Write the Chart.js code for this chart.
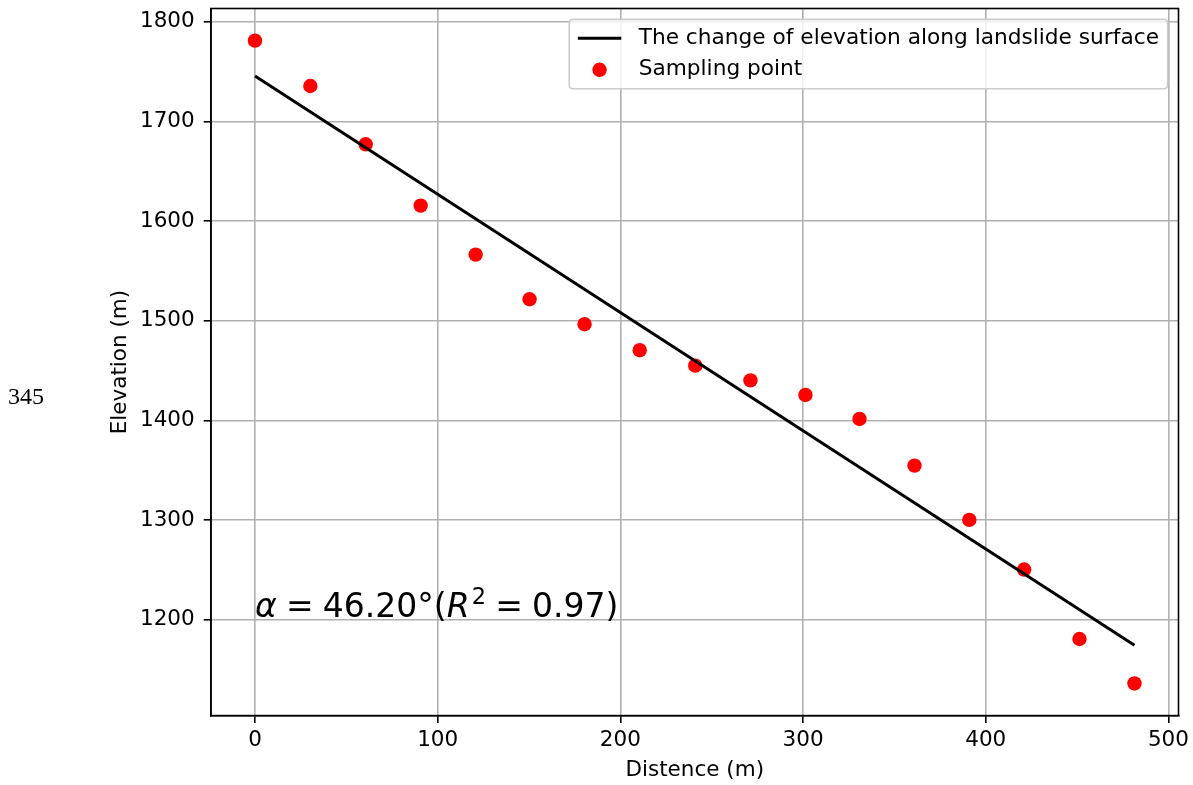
<!DOCTYPE html>
<html><head><meta charset="utf-8">
<script src="https://cdn.jsdelivr.net/npm/chart.js@4.4.1/dist/chart.umd.min.js"></script>
<style>
html,body{margin:0;padding:0;background:#fff;}
#wrap{position:relative;width:1193px;height:785px;}
#side{position:absolute;left:8px;top:381px;font:24px "Liberation Serif","Times New Roman",serif;color:#000;line-height:30px;}
canvas{display:block}
</style></head><body>
<div id="wrap"><canvas id="c" width="1193" height="785"></canvas><div id="side"></div></div>
<script>
// ---- data ----
const distance  = [0, 30.3, 60.6, 90.7, 120.8, 150.3, 180.4, 210.6, 241, 271.2, 301.3, 330.9, 361, 391, 421, 451.3, 481.4];
const elevation = [1781, 1735.5, 1677, 1615.5, 1566.3, 1521.5, 1496.5, 1470.4, 1454.9, 1440.1, 1425.5, 1401.4, 1354.6, 1300.1, 1250.3, 1180.6, 1136];
const fitX = [0, 481.4];
const fitY = [1745.5, 1174.3];
const xTicks = [0, 100, 200, 300, 400, 500];
const yTicks = [1200, 1300, 1400, 1500, 1600, 1700, 1800];
const xRange = [-24.07, 505.5];
const yRange = [1103.75, 1813.25];
const lineLabel = 'The change of elevation along landslide surface';
const pointLabel = 'Sampling point';
const xTitle = 'Distence (m)';
const yTitle = 'Elevation (m)';
const annotPos = [0, 1203];
const annotAngle = '46.20°';
const annotR2 = '0.97';
const sideNote = '345';

document.getElementById('side').textContent = sideNote;

const FS = 21.5;
const FONT = '"DejaVu Sans", "Liberation Sans", sans-serif';
Chart.defaults.font.family = FONT;
Chart.defaults.font.size = FS;
Chart.defaults.color = '#000';

const spinesPlugin = {
  id: 'spines',
  afterDatasetsDraw(chart) {
    const {ctx, chartArea: a} = chart;
    ctx.save();
    ctx.strokeStyle = '#000';
    ctx.lineWidth = 1.6;
    ctx.strokeRect(a.left, a.top, a.right - a.left, a.bottom - a.top);
    ctx.restore();
  }
};

const annotPlugin = {
  id: 'annot',
  afterDatasetsDraw(chart) {
    const {ctx, scales} = chart;
    const fs = 33;
    let x = scales.x.getPixelForValue(annotPos[0]);
    const y = scales.y.getPixelForValue(annotPos[1]);
    const gap = 0.28 * fs;
    ctx.save();
    ctx.fillStyle = '#000';
    ctx.textBaseline = 'alphabetic';
    ctx.textAlign = 'left';
    const norm = fs + 'px ' + FONT, ital = 'italic ' + fs + 'px ' + FONT;
    const draw = (t, f, dy) => { ctx.font = f; ctx.fillText(t, x, y + (dy || 0)); x += ctx.measureText(t).width; };
    draw('α', ital);
    x += gap; draw('=', norm); x += gap;
    draw(annotAngle + '(', norm);
    draw('R', ital);
    x += 2;
    draw('2', (fs * 0.68) + 'px ' + FONT, -13);
    x += gap; draw('=', norm); x += gap;
    draw(annotR2 + ')', norm);
    ctx.restore();
  }
};

const legendPlugin = {
  id: 'mplLegend',
  afterDraw(chart) {
    const {ctx, chartArea} = chart;
    const fs = 21.7;
    const borderpad = 0.4 * fs, handlelen = 2 * fs, textpad = 0.8 * fs, labelsp = 0.5 * fs, axpad = 0.5 * fs;
    const rowH = 0.95 * fs;
    ctx.save();
    ctx.font = fs + 'px ' + FONT;
    const items = chart.data.datasets;
    const tw = Math.max(...items.map(d => ctx.measureText(d.label).width));
    const w = borderpad * 2 + handlelen + textpad + tw;
    const h = borderpad * 2 + rowH * items.length + labelsp * (items.length - 1);
    const right = chartArea.right - axpad, top = chartArea.top + axpad;
    const left = right - w;
    const r = 4;
    ctx.beginPath();
    ctx.moveTo(left + r, top);
    ctx.lineTo(right - r, top); ctx.quadraticCurveTo(right, top, right, top + r);
    ctx.lineTo(right, top + h - r); ctx.quadraticCurveTo(right, top + h, right - r, top + h);
    ctx.lineTo(left + r, top + h); ctx.quadraticCurveTo(left, top + h, left, top + h - r);
    ctx.lineTo(left, top + r); ctx.quadraticCurveTo(left, top, left + r, top);
    ctx.closePath();
    ctx.fillStyle = 'rgba(255,255,255,0.8)';
    ctx.fill();
    ctx.strokeStyle = '#cccccc';
    ctx.lineWidth = 1.6;
    ctx.stroke();
    items.forEach((d, i) => {
      const cy = top + borderpad + rowH / 2 + i * (rowH + labelsp);
      const hx = left + borderpad;
      if (d.showLine) {
        ctx.beginPath();
        ctx.moveTo(hx, cy); ctx.lineTo(hx + handlelen, cy);
        ctx.strokeStyle = d.borderColor; ctx.lineWidth = d.borderWidth;
        ctx.stroke();
      } else {
        ctx.beginPath();
        ctx.arc(hx + handlelen / 2, cy, d.pointRadius, 0, Math.PI * 2);
        ctx.fillStyle = d.backgroundColor; ctx.fill();
      }
      ctx.fillStyle = '#000';
      ctx.textBaseline = 'middle';
      ctx.textAlign = 'left';
      ctx.fillText(d.label, hx + handlelen + textpad, cy);
    });
    ctx.restore();
  }
};

new Chart(document.getElementById('c'), {
  type: 'scatter',
  data: {
    datasets: [
      {
        label: lineLabel,
        data: fitX.map((x, i) => ({x, y: fitY[i]})),
        showLine: true,
        borderColor: '#000',
        backgroundColor: '#000',
        borderWidth: 3,
        pointRadius: 0,
        pointHoverRadius: 0
      },
      {
        label: pointLabel,
        data: distance.map((x, i) => ({x, y: elevation[i]})),
        showLine: false,
        backgroundColor: '#ff0000',
        borderColor: '#ff0000',
        borderWidth: 0,
        pointRadius: 7.2,
        pointHoverRadius: 7.2
      }
    ]
  },
  options: {
    responsive: false,
    animation: false,
    events: [],
    layout: { padding: { left: 0, top: 8.5, right: 14.5, bottom: 0 } },
    plugins: { legend: { display: false }, tooltip: { enabled: false } },
    scales: {
      x: {
        type: 'linear',
        min: xRange[0], max: xRange[1],
        afterBuildTicks: s => { s.ticks = xTicks.map(v => ({value: v})); },
        afterFit: s => { s.height = 69.4; s.paddingLeft = 0; s.paddingRight = 0; },
        ticks: { callback: v => String(v), padding: 4.7, maxRotation: 0, autoSkip: false, color: '#000', font: { size: FS } },
        grid: { color: '#b0b0b0', lineWidth: 1.6, tickLength: 7.3, tickColor: '#000', tickWidth: 1.6, drawTicks: true },
        border: { display: true, color: '#000', width: 1.6 },
        title: { display: true, text: xTitle, color: '#000', font: { size: FS }, padding: { top: 0, bottom: 2.1 } }
      },
      y: {
        type: 'linear',
        min: yRange[0], max: yRange[1],
        afterBuildTicks: s => { s.ticks = yTicks.map(v => ({value: v})); },
        afterFit: s => { s.width = 211; s.paddingTop = 0; s.paddingBottom = 0; },
        ticks: { callback: v => String(v), padding: 9, autoSkip: false, color: '#000', font: { size: FS } },
        grid: { color: '#b0b0b0', lineWidth: 1.6, tickLength: 7.3, tickColor: '#000', tickWidth: 1.6, drawTicks: true },
        border: { display: true, color: '#000', width: 1.6 },
        title: { display: true, text: yTitle, color: '#000', font: { size: FS }, padding: { top: 108, bottom: 0 } }
      }
    }
  },
  plugins: [spinesPlugin, annotPlugin, legendPlugin]
});
</script>
</body></html>
